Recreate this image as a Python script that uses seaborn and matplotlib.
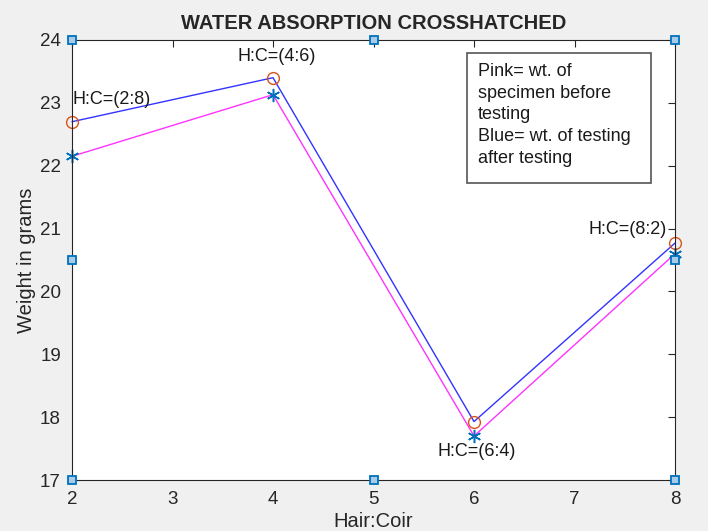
import seaborn as sns
from matplotlib import pyplot as plt
from matplotlib.patches import Rectangle
import pandas as pd

#-------------------------- Data ----------------------------------------------
ratio = [2, 4, 6, 8]
ratio_labels = ['H:C=(2:8)', 'H:C=(4:6)', 'H:C=(6:4)', 'H:C=(8:2)']
wt_blue = [22.70, 23.40, 17.93, 20.77]   # blue line, circle markers
wt_pink = [22.15, 23.13, 17.70, 20.60]   # pink line, asterisk markers

# edit-mode handles drawn on the axes frame
handle_x = [2, 5, 8, 2, 8, 2, 5, 8]
handle_y = [24, 24, 24, 20.5, 20.5, 17, 17, 17]

note = 'Pink= wt. of\nspecimen before\ntesting\nBlue= wt. of testing\nafter testing'

#-------------------------- Style ---------------------------------------------
sns.set_style('white')
plt.rcParams['font.family'] = ['Liberation Sans', 'DejaVu Sans']

df = pd.DataFrame({'ratio': ratio, 'blue': wt_blue, 'pink': wt_pink})

fig = plt.figure(figsize=(7.08, 5.31), dpi=100, facecolor='#f0f0f0')
ax = fig.add_axes([0.1017, 0.096, 0.8517, 0.8287])

#-------------------------- Plot ----------------------------------------------
sns.lineplot(data=df, x='ratio', y='blue', ax=ax, color='#3333ff', lw=1,
             marker='o', markersize=8.5, markerfacecolor='none',
             markeredgecolor='#D95319', markeredgewidth=1, clip_on=False)
sns.lineplot(data=df, x='ratio', y='pink', ax=ax, color='#ff33ff', lw=1,
             marker=(6, 2, 0), markersize=9.5,
             markeredgecolor='#0072BD', markeredgewidth=1.1, clip_on=False)
ax.plot(handle_x, handle_y, ls='none', marker='s', markersize=6,
        markerfacecolor='#a8cbe8', markeredgecolor='#0072BD',
        markeredgewidth=1.3, clip_on=False, zorder=5)

# label positions (data coords) and alignment
lab_x = [2.0, 4.04, 6.03, 7.92]
lab_y = [23.05, 23.73, 17.45, 20.98]
lab_ha = ['left', 'center', 'center', 'right']
for x, y, lab, ha in zip(lab_x, lab_y, ratio_labels, lab_ha):
    ax.text(x, y, lab, ha=ha, va='center', fontsize=13, color='#1a1a1a')

ax.add_patch(Rectangle((0.655, 0.675), 0.305, 0.295, transform=ax.transAxes,
                       fc='white', ec='#555555', lw=1.2, zorder=4))
ax.text(0.673, 0.948, note, transform=ax.transAxes, ha='left', va='top',
        fontsize=13, linespacing=1.36, color='#1a1a1a', zorder=5)

ax.set_xlim(2, 8)
ax.set_ylim(17, 24)
ax.set_xticks(range(2, 9))
ax.set_yticks(range(17, 25))
ax.tick_params(direction='in', length=5, width=0.8, top=True, right=True,
               labelsize=13.5, colors='#262626', pad=8)
for s in ax.spines.values():
    s.set_color('#262626')
    s.set_linewidth(0.8)

ax.set_title('WATER ABSORPTION CROSSHATCHED', fontsize=14.5, weight='bold', pad=8)
ax.set_xlabel('Hair:Coir', fontsize=14.5, color='#262626', labelpad=3)
ax.set_ylabel('Weight in grams', fontsize=14.5, color='#262626', labelpad=3)

fig.savefig('out.png', dpi=100, facecolor=fig.get_facecolor())
